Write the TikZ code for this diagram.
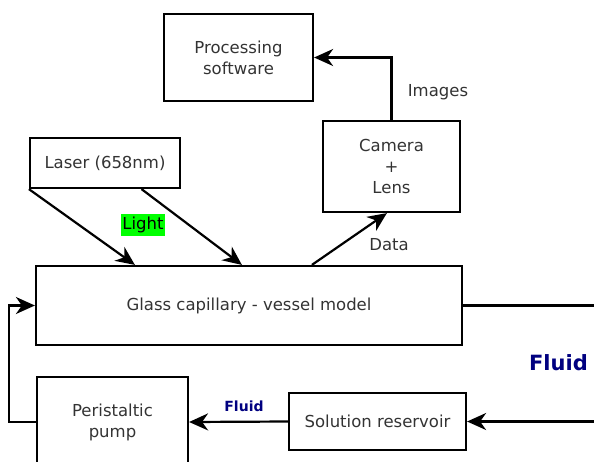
\documentclass[tikz,border=0pt]{standalone}
\usepackage{fontspec}
\setmainfont{DejaVu Sans}
\usetikzlibrary{arrows.meta,calc}
\definecolor{fluidblue}{RGB}{0,0,128}
\definecolor{lightgreen}{RGB}{0,255,0}
\begin{document}
\begin{tikzpicture}[x=1pt,y=-1pt,
  box/.style={draw,line width=2.2pt,align=center,text=black!80,
    font=\fontsize{16.5}{21}\selectfont,inner sep=0pt},
  conn/.style={line width=2.2pt},
  arr/.style={conn,-{Stealth[length=19pt,width=17pt,inset=6pt]}},
  lbl/.style={font=\fontsize{16.5}{21}\selectfont,text=black!80,inner sep=0pt}]
\useasboundingbox (0,0) rectangle (594,461);
\clip (0,0) rectangle (594,461);
\node[box,minimum width=149pt,minimum height=87pt] (proc) at (238.5,57.5) {Processing\\software};
\node[box,minimum width=137pt,minimum height=91pt] (cam) at (391.5,166.5) {Camera\\+\\Lens};
\node[box,minimum width=150pt,minimum height=50pt] (laser) at (105,163) {Laser (658nm)};
\node[box,minimum width=426pt,minimum height=79pt] (glass) at (249,305.5) {Glass capillary - vessel model};
\node[box,minimum width=177pt,minimum height=57pt] (sol) at (377.5,421.5) {Solution reservoir};
\node[box,minimum width=151pt,minimum height=90pt] (peri) at (112.5,422) {Peristaltic\\pump};

\coordinate (l1) at ($(laser.south west)$);
\coordinate (l2) at ($(laser.south west)!0.74!(laser.south east)$);
\coordinate (g1) at ($(glass.north west)+(100,0)$);
\coordinate (g2) at ($(glass.north west)+(207,0)$);
\coordinate (gd) at ($(glass.north west)+(277,0)$);
\coordinate (cd) at ($(cam.south west)+(65,0)$);
\coordinate (rout) at (600,305.5);
\coordinate (rin) at (600,421.5);

\draw[arr] (l1) -- (g1);
\draw[arr] (l2) -- (g2);
\draw[arr] (gd) -- (cd);
\draw[arr] (cam.north) |- (proc.east);
\draw[conn] (glass.east) -- (rout);
\draw[arr] (rin) -- (sol.east);
\draw[arr] (sol.west) -- (peri.east);
\draw[arr] (peri.west) -- ++(-27,0) |- (glass.west);

\node[lbl,text=black,fill=lightgreen,inner xsep=1pt,inner ysep=3pt] (light) at (143,225) {Light};
\node[lbl] (data) at (389,245) {Data};
\node[lbl] (img) at (438,92) {Images};
\node[font=\bfseries\fontsize{14}{17}\selectfont,text=fluidblue,inner sep=0pt] (f1) at (244,406) {Fluid};
\node[font=\bfseries\fontsize{21}{25}\selectfont,text=fluidblue,inner sep=0pt] (f2) at (558.5,363) {Fluid};
\end{tikzpicture}
\end{document}
